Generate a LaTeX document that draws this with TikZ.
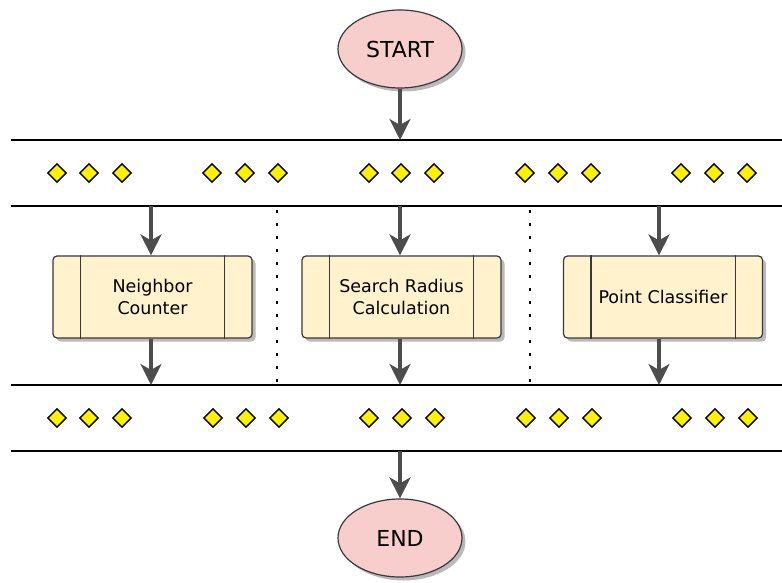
\documentclass[tikz,border=0pt]{standalone}
\usepackage{fontspec}
\setmainfont{DejaVu Sans}
\usetikzlibrary{shapes.geometric,arrows.meta,shadows}
\definecolor{termfill}{HTML}{F8CECC}
\definecolor{procfill}{HTML}{FFF2CC}
\definecolor{edgegray}{HTML}{4D4D4D}
\definecolor{outline}{HTML}{36393D}

\begin{document}
\begin{tikzpicture}[x=1pt,y=-1pt,
  softshadow/.style={drop shadow={shadow xshift=3.5pt, shadow yshift=-3.5pt, fill=black!45, opacity=0.6}},
  terminal/.style={ellipse, draw=outline, line width=1.2pt, fill=termfill,
    minimum width=124pt, minimum height=78pt, inner sep=0pt,
    font=\fontsize{22}{26}\selectfont, softshadow},
  process/.style={rectangle, rounded corners=4pt, draw=outline, line width=1.2pt,
    fill=procfill, minimum width=199pt, minimum height=82pt, align=center,
    inner sep=0pt, font=\fontsize{17.5}{21.5}\selectfont, softshadow},
  token/.style={diamond, draw=black, fill=yellow, line width=1.4pt,
    minimum width=19pt, minimum height=19pt, inner sep=0pt},
  flow/.style={draw=edgegray, line width=3.4pt,
    -{Stealth[length=21pt, width=21pt, inset=6pt]}},
  lane/.style={draw=black, line width=1.4pt},
  divider/.style={draw=black, line width=2.8pt, dash pattern=on 2.8pt off 10.2pt},
  sideline/.style={draw=outline, line width=1.2pt}
]
\useasboundingbox (0,0) rectangle (782,583);

% terminals
\node[terminal] (start) at (400,49) {START};
\node[terminal] (end) at (400,538) {END};

% lane borders
\coordinate (l1w) at (11,140);  \coordinate (l1e) at (782,140);
\coordinate (l2w) at (11,206);  \coordinate (l2e) at (782,206);
\coordinate (l3w) at (11,385);  \coordinate (l3e) at (782,385);
\coordinate (l4w) at (11,451);  \coordinate (l4e) at (782,451);
\draw[lane] (l1w) -- (l1e);
\draw[lane] (l2w) -- (l2e);
\draw[lane] (l3w) -- (l3e);
\draw[lane] (l4w) -- (l4e);

% token rows
\foreach \x [count=\i] in {57,89,122,212,245,278,369,401,434,525,558,591,681,714,747}
  \node[token] (ta\i) at (\x,173) {};
\foreach \x [count=\i] in {57,89,122,213,246,279,369,402,435,526,559,592,682,715,748}
  \node[token] (tb\i) at (\x,418) {};

% column dividers
\coordinate (d1a) at (277,210); \coordinate (d1b) at (277,385);
\coordinate (d2a) at (530,210); \coordinate (d2b) at (530,385);
\draw[divider] (d1a) -- (d1b);
\draw[divider] (d2a) -- (d2b);

% process boxes
\node[process] (neigh) at (152.5,297) {Neighbor\\Counter};
\node[process] (radius) at (401.5,297) {Search Radius\\Calculation};
\node[process] (classify) at (663,297) {Point Classifier};
\foreach \b in {neigh,radius,classify}{
  \draw[sideline] ([xshift=28pt]\b.north west) -- ([xshift=28pt]\b.south west);
  \draw[sideline] ([xshift=-28pt]\b.north east) -- ([xshift=-28pt]\b.south east);
}

% connectors
\coordinate (inS) at (400,140);
\draw[flow] (start) -- (inS);

\coordinate (a1) at (151,206);
\coordinate (a2) at (400,206);
\coordinate (a3) at (659,206);
\draw[flow] (a1) -- (a1 |- neigh.north);
\draw[flow] (a2) -- (a2 |- radius.north);
\draw[flow] (a3) -- (a3 |- classify.north);

\coordinate (b1) at (151,385);
\coordinate (b2) at (400,385);
\coordinate (b3) at (659,385);
\draw[flow] (neigh.south -| b1) -- (b1);
\draw[flow] (radius.south -| b2) -- (b2);
\draw[flow] (classify.south -| b3) -- (b3);

\coordinate (outE) at (400,451);
\draw[flow] (outE) -- (end);
\end{tikzpicture}
\end{document}
